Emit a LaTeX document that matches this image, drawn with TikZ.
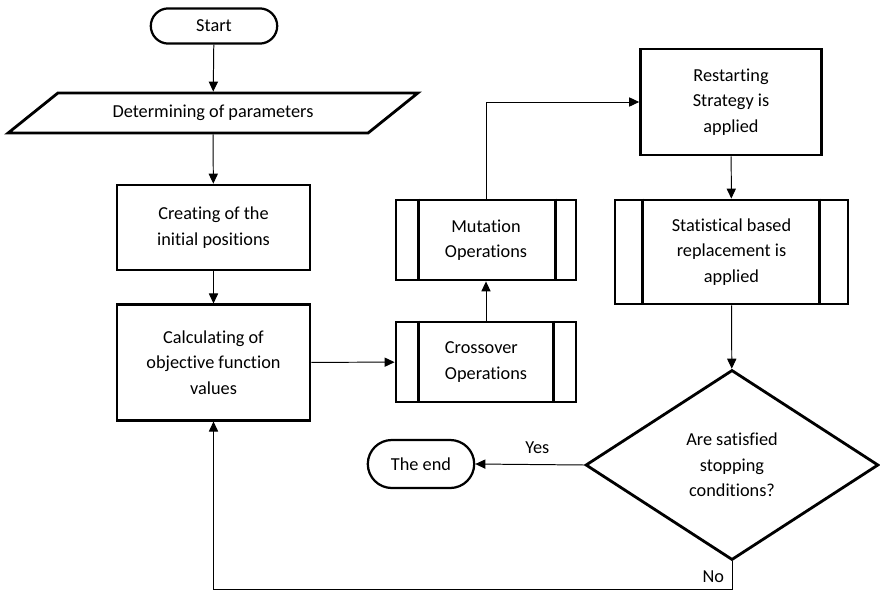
\documentclass[tikz,border=0pt]{standalone}
\usepackage{fontspec}
\setmainfont{Carlito}[Ligatures=NoCommon]
\usepackage{tikz}
\usetikzlibrary{shapes.misc, shapes.geometric, arrows.meta}
\usetikzlibrary{positioning}

\begin{document}
\begin{tikzpicture}[x=0.025cm, y=-0.025cm,
    every node/.style={font=\fontsize{13}{18}\selectfont},
    box/.style={draw, line width=2pt, align=center, inner sep=2pt},
    proc/.style={box, minimum width=4.5cm, minimum height=2cm},
    term/.style={draw, line width=1.6pt, rounded rectangle, inner sep=2pt},
    arr/.style={-{Triangle[length=2.5mm, width=2.3mm]}, line width=0.7pt}]
  \useasboundingbox (0,0) rectangle (880,592);

  % Start und Ende
  \node[term, minimum width=3.3cm, minimum height=0.88cm] (start) at (214,26) {Start};
  \node[term, minimum width=2.8cm, minimum height=1.2cm] (theend) at (421,464) {The end};

  % Parameter (Parallelogramm)
  \node[draw, line width=2pt, trapezium, trapezium left angle=26, trapezium right angle=154,
        trapezium stretches, minimum width=10.25cm, minimum height=1cm, inner sep=0pt] (param) at (213,113) {Determining of parameters};

  % linke Spalte
  \node[box, minimum width=4.82cm, minimum height=2.12cm] (create) at (213.5,227.5) {Creating of the\\initial positions};
  \node[box, minimum width=4.82cm, minimum height=2.88cm] (calc) at (213.5,362.5) {Calculating of\\objective function\\values};

  % Operatoren
  \node[proc, align=left] (cross) at (486,362) {Crossover\\Operations};
  \node[proc] (mut) at (486,240) {Mutation\\Operations};
  \draw[line width=2pt] ([xshift=0.6cm]cross.north west) -- ([xshift=0.6cm]cross.south west);
  \draw[line width=2pt] ([xshift=-0.6cm]cross.north east) -- ([xshift=-0.6cm]cross.south east);
  \draw[line width=2pt] ([xshift=0.6cm]mut.north west) -- ([xshift=0.6cm]mut.south west);
  \draw[line width=2pt] ([xshift=-0.55cm]mut.north east) -- ([xshift=-0.55cm]mut.south east);

  % rechte Spalte
  \node[box, minimum width=4.52cm, minimum height=2.65cm] (restart) at (731,102) {Restarting\\Strategy is\\applied};
  \node[box, minimum width=5.82cm, minimum height=2.6cm] (stat) at (731.5,252) {Statistical based\\replacement is\\applied};
  \draw[line width=2pt] ([xshift=0.72cm]stat.north west) -- ([xshift=0.72cm]stat.south west);
  \draw[line width=2pt] ([xshift=-0.75cm]stat.north east) -- ([xshift=-0.75cm]stat.south east);

  % Abbruchbedingung
  \node[draw, line width=2pt, diamond, align=center, inner sep=0pt,
        minimum width=7.32cm, minimum height=4.75cm] (stop) at (732,465) {Are satisfied\\stopping\\conditions?};
  \coordinate (bend) at (732,589);

  % Pfeile
  \draw[arr] (start) -- (param);
  \draw[arr] (param) -- (create);
  \draw[arr] (create) -- (calc);
  \draw[arr] (calc) -- (cross);
  \draw[arr] (cross) -- (mut);
  \draw[arr] (mut.north) |- (restart.west);
  \draw[arr] (restart) -- (stat);
  \draw[arr] (stat) -- (stop);
  \draw[arr] (stop.west) -- node[pos=0.43, above=4pt] {Yes} (theend.east);
  \draw[arr] (stop.south) -- node[pos=0.55, left=2pt] {No} (bend) -| (calc.south);

\end{tikzpicture}
\end{document}
